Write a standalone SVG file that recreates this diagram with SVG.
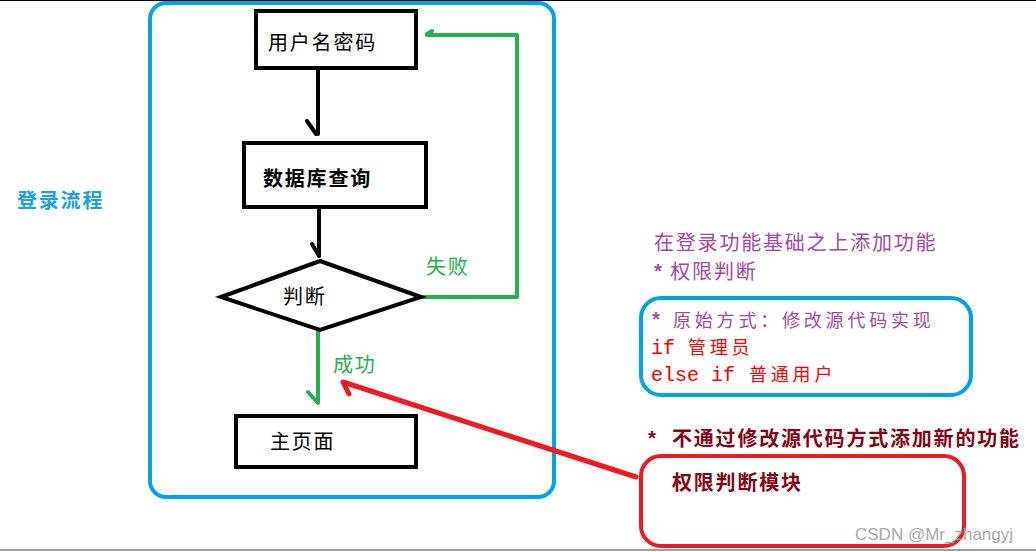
<svg xmlns="http://www.w3.org/2000/svg" width="1036" height="552" viewBox="0 0 1036 552">
<style>
.t{font-family:"Noto Sans CJK SC","Liberation Sans",sans-serif;font-size:20px;letter-spacing:1.8px}
.s{font-family:"Noto Sans CJK SC","Liberation Sans",sans-serif;font-size:18px;letter-spacing:3.8px}
.m{font-family:"Liberation Mono","Noto Sans CJK SC",monospace;font-size:20px;letter-spacing:0}
.box{fill:#fff;stroke:#000;stroke-width:4}
.blk{fill:none;stroke:#000;stroke-width:4;stroke-linecap:round;stroke-linejoin:round}
.grn{fill:none;stroke:#22b14c;stroke-width:4;stroke-linecap:round;stroke-linejoin:round}
.red{fill:none;stroke:#ed1c24;stroke-width:5;stroke-linecap:round;stroke-linejoin:round}
.pur{fill:#a349a4}
.rd{fill:#ff0000}
.dr{fill:#880015}
</style>
<rect width="1036" height="552" fill="#fff"/>
<line x1="0" y1="0.5" x2="1036" y2="0.5" stroke="#000" stroke-width="1"/>
<line x1="0" y1="550" x2="1036" y2="550" stroke="#a0a0a0" stroke-width="2"/>
<rect x="150" y="3" width="404" height="494" rx="16" fill="none" stroke="#00a2e8" stroke-width="4"/>
<text class="t" x="17" y="208" fill="#1aa3e0" font-weight="bold">登录流程</text>
<g id="connectors">
  <path class="blk" d="M318,68 V134 M307,121 L316,134"/>
  <path class="blk" d="M319,208 V256 M312,244 L319,256"/>
  <path class="grn" d="M422,297 H517 V35 H427 M427,34 L432,31"/>
  <path class="grn" d="M318,330 V403 M308,392 L318,403"/>
  <path class="red" d="M636,477 L343,382 M343,382 L349,394"/>
  <text class="t" x="426" y="274" fill="#22b14c">失败</text>
  <text class="t" x="333" y="372" fill="#22b14c">成功</text>
</g>
<g id="n1"><rect class="box" x="256" y="11" width="160" height="57"/><text class="t" x="268" y="50">用户名密码</text></g>
<g id="n2"><rect class="box" x="244" y="143" width="182" height="64"/><text class="t" x="263" y="186" font-weight="bold">数据库查询</text></g>
<g id="n3"><polygon class="box" points="221,297 320,261 421,297 320,330"/><text class="t" x="283" y="304">判断</text></g>
<g id="n4"><rect class="box" x="236" y="416" width="180" height="51"/><text class="t" x="270" y="449">主页面</text></g>
<g id="notes">
  <text class="t pur" x="654" y="250">在登录功能基础之上添加功能</text>
  <text class="t pur" x="652" y="279"><tspan class="m" font-weight="bold">*</tspan> 权限判断</text>
</g>
<g id="n5">
  <rect x="641" y="298" width="330" height="97" rx="20" fill="none" stroke="#00a2e8" stroke-width="4"/>
  <text class="s pur" x="650" y="327"><tspan class="m" font-weight="bold">*</tspan><tspan x="673">原始方式：修改源代码实现</tspan></text>
  <text class="rd" x="651" y="354"><tspan class="m">if </tspan><tspan class="s" x="688">管理员</tspan></text>
  <text class="rd" x="651" y="381"><tspan class="m">else if </tspan><tspan class="s" x="749">普通用户</tspan></text>
</g>
<text class="t dr" x="646" y="446" font-weight="bold"><tspan class="m">*</tspan><tspan x="672">不通过修改源代码方式添加新的功能</tspan></text>
<g id="n6">
  <rect x="641" y="456" width="323" height="90" rx="20" fill="none" stroke="#ed1c24" stroke-width="4"/>
  <text class="t dr" x="672" y="490" font-weight="bold">权限判断模块</text>
</g>
<text x="855" y="540" font-family="Liberation Sans,sans-serif" font-size="17" fill="#a8a8a8">CSDN @Mr_zhangyj</text>
</svg>
